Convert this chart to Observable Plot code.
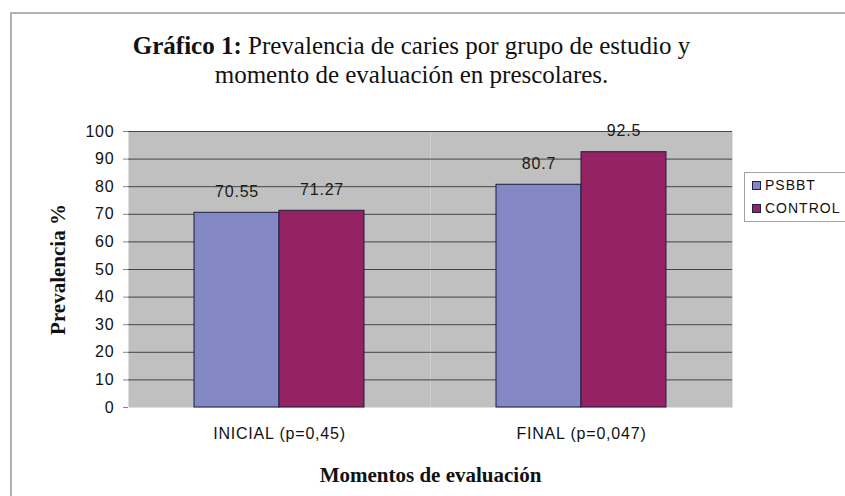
<!DOCTYPE html>
<html>
<head>
<meta charset="utf-8">
<script src="https://cdn.jsdelivr.net/npm/d3@7"></script>
<script src="https://cdn.jsdelivr.net/npm/@observablehq/plot@0.6"></script>
<style>
  html, body { margin: 0; padding: 0; background: #fff; width: 845px; height: 496px; overflow: hidden; }
  #wrap { position: relative; width: 845px; height: 496px; }
  #border { position: absolute; left: 10px; top: 12px; width: 900px; height: 600px; border: 2px solid #b0b0b8; box-sizing: border-box; }
  #title { position: absolute; left: 0; top: 31px; width: 823px; text-align: center; font-family: "Liberation Serif", "Times New Roman", serif; font-size: 25px; line-height: 29px; color: #111; }
  #title b { font-weight: bold; }
  #legend { position: absolute; left: 744px; top: 172px; width: 130px; height: 50px; border: 1px solid #a0a0a0; background: #fff; box-sizing: border-box; font-family: "Liberation Sans", Arial, sans-serif; font-size: 14px; letter-spacing: 1px; color: #111; }
  #legend .item { position: absolute; left: 7px; display: flex; align-items: center; height: 18px; white-space: nowrap; }
  #legend .sw { width: 7px; height: 7px; border: 1px solid #202040; margin-right: 4px; }
  #chart { position: absolute; left: 0; top: 0; }
  #chart svg { overflow: visible; }
  #chart g[aria-label="y-axis tick label"] text, #chart g[aria-label="fx-axis tick label"] text, #chart g[aria-label="text"] text { letter-spacing: 0.8px; }
  #chart g[aria-label="y-axis label"] text, #chart g[aria-label="fx-axis label"] text { font-family: "Liberation Serif", "Times New Roman", serif; font-weight: bold; font-size: 21px; fill: #111; letter-spacing: 0; }
</style>
</head>
<body>
<div id="wrap">
  <div id="border"></div>
  <div id="title"><b>Gráfico 1:</b> Prevalencia de caries por grupo de estudio y<br>momento de evaluación en prescolares.</div>
  <div id="chart"></div>
  <div id="legend"></div>
</div>
<script>
const moments = ["INICIAL (p=0,45)", "FINAL (p=0,047)"];
const groups = ["PSBBT", "CONTROL"];
const psbbtValues = [70.55, 80.7];
const controlValues = [71.27, 92.5];
const valueLabels = [["70.55", "80.7"], ["71.27", "92.5"]];
const yTicks = [0, 10, 20, 30, 40, 50, 60, 70, 80, 90, 100];
const colors = ["#8387c4", "#952262"];

const data = [];
moments.forEach((m, i) => {
  data.push({moment: m, group: groups[0], value: psbbtValues[i], label: valueLabels[0][i]});
  data.push({moment: m, group: groups[1], value: controlValues[i], label: valueLabels[1][i]});
});

const chart = Plot.plot({
  width: 845,
  height: 496,
  marginLeft: 127,
  marginRight: 113,
  marginTop: 131,
  marginBottom: 89,
  style: {fontFamily: "'Liberation Sans', Arial, sans-serif", fontSize: "16px", color: "#111", background: "transparent"},
  fx: {domain: moments, padding: 0, label: null},
  x: {domain: groups, paddingInner: 0, paddingOuter: 0.76, axis: null},
  y: {domain: [0, 100]},
  color: {domain: groups, range: colors},
  marks: [
    Plot.frame({fill: "#c0c0c0", stroke: null}),
    Plot.gridY(yTicks.filter(d => d > 0), {stroke: "#444", strokeOpacity: 1, strokeWidth: 1}),
    Plot.barY(data, {fx: "moment", x: "group", y: "value", fill: "group", stroke: "#1c1c40", strokeWidth: 1}),
    Plot.text(data, {fx: "moment", x: "group", y: "value", text: "label", dy: -21, fill: "#1a1a1a", fontSize: 16}),
    Plot.axisY({ticks: yTicks, tickSize: 5, tickPadding: 9, stroke: "#888", label: "Prevalencia %", labelArrow: "none", labelAnchor: "center", labelOffset: 78, fontSize: 16}),
    Plot.ruleX([0], {stroke: "#999"}),
    Plot.axisFx({anchor: "bottom", tickSize: 0, tickPadding: 20, label: "Momentos de evaluación", labelArrow: "none", labelAnchor: "center", labelOffset: 74, fontSize: 16})
  ]
});
document.getElementById("chart").appendChild(chart);

const legend = document.getElementById("legend");
groups.forEach((g, i) => {
  const item = document.createElement("div");
  item.className = "item";
  item.style.top = (3 + i * 23) + "px";
  item.innerHTML = `<span class="sw" style="background:${colors[i]}"></span><span>${g}</span>`;
  legend.appendChild(item);
});
</script>
</body>
</html>
